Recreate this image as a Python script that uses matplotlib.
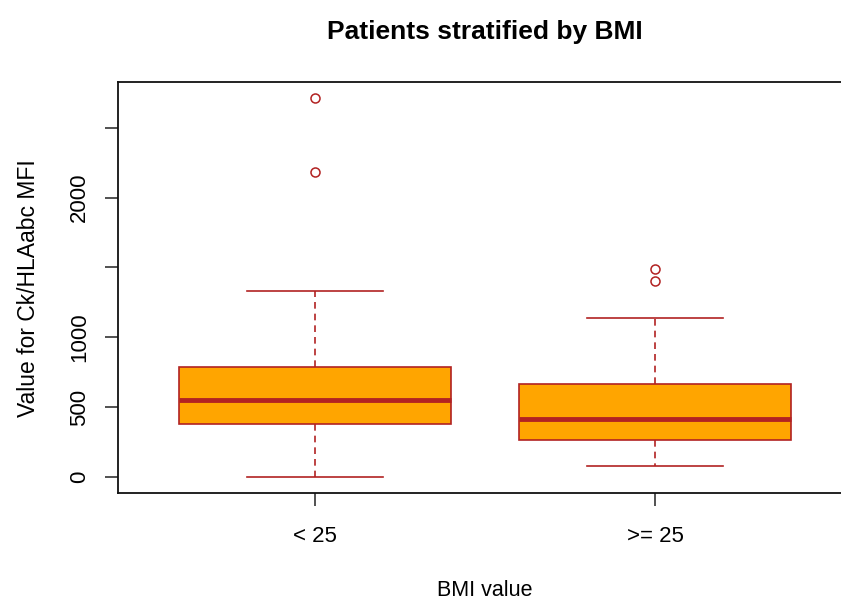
import numpy as np
import matplotlib.pyplot as plt

plt.rcParams["font.family"] = ["Liberation Sans", "DejaVu Sans"]

# box statistics
groups = ["< 25", ">= 25"]
q1 = [378, 263]
med = [551, 417]
q3 = [788, 663]
whislo = [0, 79]
whishi = [1331, 1136]
fliers = [[2715, 2183], [1489, 1401]]

yticks = [0, 500, 1000, 1500, 2000, 2500]
yticklabels = ["0", "500", "1000", "", "2000", ""]

edge = "#B22222"
fill = "#FFA500"

fig = plt.figure(figsize=(8.41, 6.01), dpi=100)
ax = fig.add_axes([0.1407, 0.1792, 0.8724, 0.6839])

stats = []
for i in range(len(groups)):
    stats.append(dict(label=groups[i], q1=q1[i], med=med[i], q3=q3[i],
                      whislo=whislo[i], whishi=whishi[i], fliers=fliers[i]))

ax.bxp(stats, positions=[1, 2], widths=0.8, patch_artist=True,
       boxprops=dict(facecolor=fill, edgecolor=edge, linewidth=1.2),
       medianprops=dict(color=edge, linewidth=3.5, solid_capstyle="butt"),
       whiskerprops=dict(color=edge, linewidth=1.2, linestyle=(0, (4, 3))),
       capprops=dict(color=edge, linewidth=1.2),
       capwidths=0.4,
       flierprops=dict(marker="o", markerfacecolor="none", markeredgecolor=edge,
                       markersize=6.5, markeredgewidth=1.1))

ax.set_xlim(0.42, 2.58)
ax.set_ylim(-117, 2825)
ax.set_yticks(yticks)
ax.set_yticklabels(yticklabels, rotation=90, va="center")
ax.tick_params(axis="both", length=9.4, width=1.1, labelsize=16, color="#222222")
ax.tick_params(axis="x", pad=14)
ax.tick_params(axis="y", pad=11)
for s in ax.spines.values():
    s.set_linewidth(1.3)
    s.set_color("#111111")

ax.set_xlabel("BMI value", fontsize=15.5, labelpad=24)
ax.set_ylabel("Value for Ck/HLAabc MFI", fontsize=16.5, labelpad=21)
ax.set_title("Patients stratified by BMI", fontsize=19, fontweight="bold", pad=31)

fig.savefig("out.png", dpi=100)
